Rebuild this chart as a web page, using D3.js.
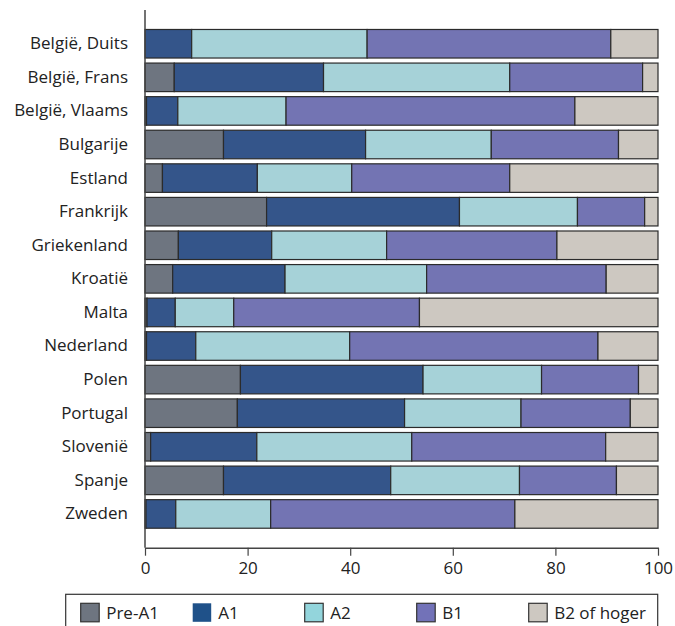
<!DOCTYPE html>
<html><head><meta charset="utf-8">
<script src="https://cdn.jsdelivr.net/npm/d3@7"></script>
<style>body{margin:0;background:#fff}svg{display:block}</style>
</head><body>
<svg id="c" width="675" height="626"></svg>
<script>
const countries = ["België, Duits","België, Frans","België, Vlaams","Bulgarije","Estland","Frankrijk","Griekenland","Kroatië","Malta","Nederland","Polen","Portugal","Slovenië","Spanje","Zweden"];
const levels = ["Pre-A1","A1","A2","B1","B2 of hoger"];
const preA1 = [0,5.7,0.3,15.3,3.4,23.7,6.5,5.4,0.4,0.3,18.6,18.0,1.1,15.3,0.2];
const a1    = [9.1,29.1,6.1,27.7,18.5,37.6,18.2,21.9,5.5,9.6,35.6,32.6,20.7,32.6,5.8];
const a2    = [34.2,36.3,21.1,24.5,18.4,23.0,22.4,27.6,11.4,30.0,23.1,22.7,30.2,25.1,18.5];
const b1    = [47.5,25.9,56.3,24.8,30.8,13.1,33.2,35.0,36.2,48.4,18.9,21.3,37.8,18.9,47.6];
const b2    = [9.2,3.0,16.2,7.7,28.9,2.6,19.7,10.1,46.5,11.7,3.8,5.4,10.2,8.1,27.9];
const xTicks = [0,20,40,60,80,100];

const barColors = ["#6e7580","#34558a","#a6d2d8","#7374b3","#cdc8c1"];
const legendColors = ["#6e7580","#1f5189","#93d5dc","#7272b8","#cdc8c1"];

const rows = countries.map((c,i)=>({country:c, "Pre-A1":preA1[i], "A1":a1[i], "A2":a2[i], "B1":b1[i], "B2 of hoger":b2[i]}));
const stacked = d3.stack().keys(levels)(rows);

const svg = d3.select("#c");
const font = "'Open Sans', sans-serif";
const x = d3.scaleLinear().domain([0,100]).range([145,658]);
const y = d3.scaleBand().domain(countries).range([10,547.7]).paddingInner(0.15).paddingOuter(0.58);
const color = d3.scaleOrdinal().domain(levels).range(barColors);

svg.append("g").selectAll("g").data(stacked).join("g")
  .attr("fill", d=>color(d.key))
  .selectAll("rect").data(d=>d).join("rect")
  .attr("x", d=>x(d[0]))
  .attr("y", d=>y(d.data.country))
  .attr("width", d=>Math.max(0, x(d[1])-x(d[0])))
  .attr("height", y.bandwidth())
  .attr("stroke", "#2b2b2b")
  .attr("stroke-width", 1.2);

// y axis
const yAxis = svg.append("g").attr("transform","translate(145,0)")
  .call(d3.axisLeft(y).tickSize(0).tickPadding(17));
yAxis.select(".domain").attr("d","M0,10V547.7").attr("stroke","#444").attr("stroke-width",1.5);
yAxis.selectAll("text").attr("font-family",font).attr("font-size",17).attr("fill","#222");

// x axis
const xAxis = svg.append("g").attr("transform","translate(0,547.7)")
  .call(d3.axisBottom(x).tickValues(xTicks).tickSize(8).tickPadding(6).tickSizeOuter(0));
xAxis.select(".domain").attr("stroke","#444").attr("stroke-width",1.5);
xAxis.selectAll(".tick line").attr("stroke","#444").attr("stroke-width",1.2);
xAxis.selectAll("text").attr("font-family",font).attr("font-size",17).attr("fill","#222");

// legend
const lg = svg.append("g");
lg.append("rect").attr("x",65.7).attr("y",594.3).attr("width",592).attr("height",40)
  .attr("fill","#fff").attr("stroke","#333").attr("stroke-width",1.2);
const li = lg.selectAll("g.li").data(levels).join("g").attr("class","li")
  .attr("transform",(d,i)=>`translate(${80.7+i*112},603.3)`);
li.append("rect").attr("width",18.5).attr("height",18.5)
  .attr("fill",(d,i)=>legendColors[i])
  .attr("stroke",(d,i)=> i===1 ? "none" : "#333").attr("stroke-width",1.2);
li.append("text").attr("x",25.5).attr("y",9.5).attr("dy","0.35em")
  .attr("font-family",font).attr("font-size",17).attr("fill","#222").text(d=>d);
</script>
</body></html>
